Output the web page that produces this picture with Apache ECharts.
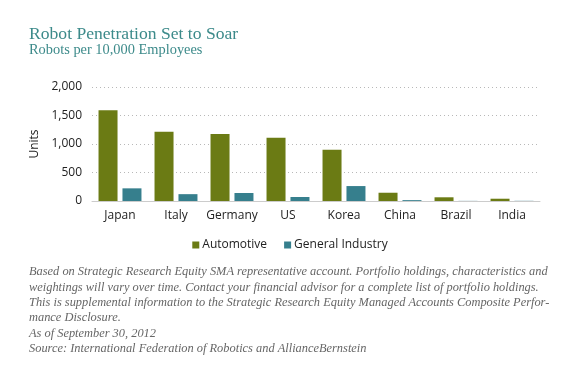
<!DOCTYPE html>
<html>
<head>
<meta charset="utf-8">
<script src="https://cdn.jsdelivr.net/npm/echarts@6/dist/echarts.min.js"></script>
<style>
html,body{margin:0;padding:0;background:#fff;}
#c{width:580px;height:367px;}
</style>
</head>
<body>
<div id="c"></div>
<script>
const categories = ['Japan', 'Italy', 'Germany', 'US', 'Korea', 'China', 'Brazil', 'India'];
const automotive = [1590, 1215, 1175, 1110, 900, 145, 65, 40];
const generalIndustry = [222, 120, 140, 70, 262, 15, 2, 3];
const yTicks = [0, 500, 1000, 1500, 2000];
const titleText = 'Robot Penetration Set to Soar';
const subtitleText = 'Robots per 10,000 Employees';
const noteLines = [
  'Based on Strategic Research Equity SMA representative account. Portfolio holdings, characteristics and',
  'weightings will vary over time. Contact your financial advisor for a complete list of portfolio holdings.',
  'This is supplemental information to the Strategic Research Equity Managed Accounts Composite Perfor-',
  'mance Disclosure.',
  'As of September 30, 2012',
  'Source: International Federation of Robotics and AllianceBernstein'
];

const chart = echarts.init(document.getElementById('c'), null, {renderer: 'canvas'});
const sans = '"Open Sans", sans-serif';

const graphics = [
  {type: 'text', left: 29, top: 25, style: {text: titleText, font: '17.6px "Liberation Serif", serif', fill: '#3c8a8a'}},
  {type: 'text', left: 29, top: 43, style: {text: subtitleText, font: '14.4px "Liberation Serif", serif', fill: '#3c8a8a'}}
];
noteLines.forEach((t, i) => {
  graphics.push({type: 'text', left: 29, top: 266 + i * 15.4,
    style: {text: t, font: 'italic 12.4px "Liberation Serif", serif', fill: '#666666'}});
});

chart.setOption({
  animation: false,
  grid: {left: 92, right: 40, top: 87, bottom: 166},
  legend: {
    data: ['Automotive', 'General Industry'],
    left: 'center', top: 234,
    icon: 'rect', itemWidth: 7, itemHeight: 7, itemGap: 17,
    textStyle: {fontFamily: sans, fontSize: 12, color: '#222', padding: [0, 0, 0, -2]}
  },
  xAxis: {
    type: 'category',
    data: categories,
    axisLine: {lineStyle: {color: '#cccccc', width: 1}},
    axisTick: {show: false},
    axisLabel: {fontFamily: sans, fontSize: 12, color: '#222', margin: 9, interval: 0}
  },
  yAxis: {
    type: 'value',
    min: yTicks[0], max: yTicks[yTicks.length - 1], interval: 500,
    name: 'Units', nameLocation: 'middle', nameGap: 46,
    nameTextStyle: {fontFamily: sans, fontSize: 12, color: '#222'},
    axisLine: {show: false},
    axisTick: {show: false},
    axisLabel: {fontFamily: sans, fontSize: 12, color: '#222', margin: 10,
      formatter: v => v.toLocaleString('en-US')},
    splitLine: {lineStyle: {color: '#b8b8b8', type: [1, 3], width: 1}}
  },
  series: [
    {name: 'Automotive', type: 'bar', data: automotive, barWidth: 19, barGap: '26%',
      itemStyle: {color: '#6b7b14'}},
    {name: 'General Industry', type: 'bar', data: generalIndustry, barWidth: 19,
      itemStyle: {color: '#367f8d'}}
  ],
  graphic: graphics
});
</script>
</body>
</html>
